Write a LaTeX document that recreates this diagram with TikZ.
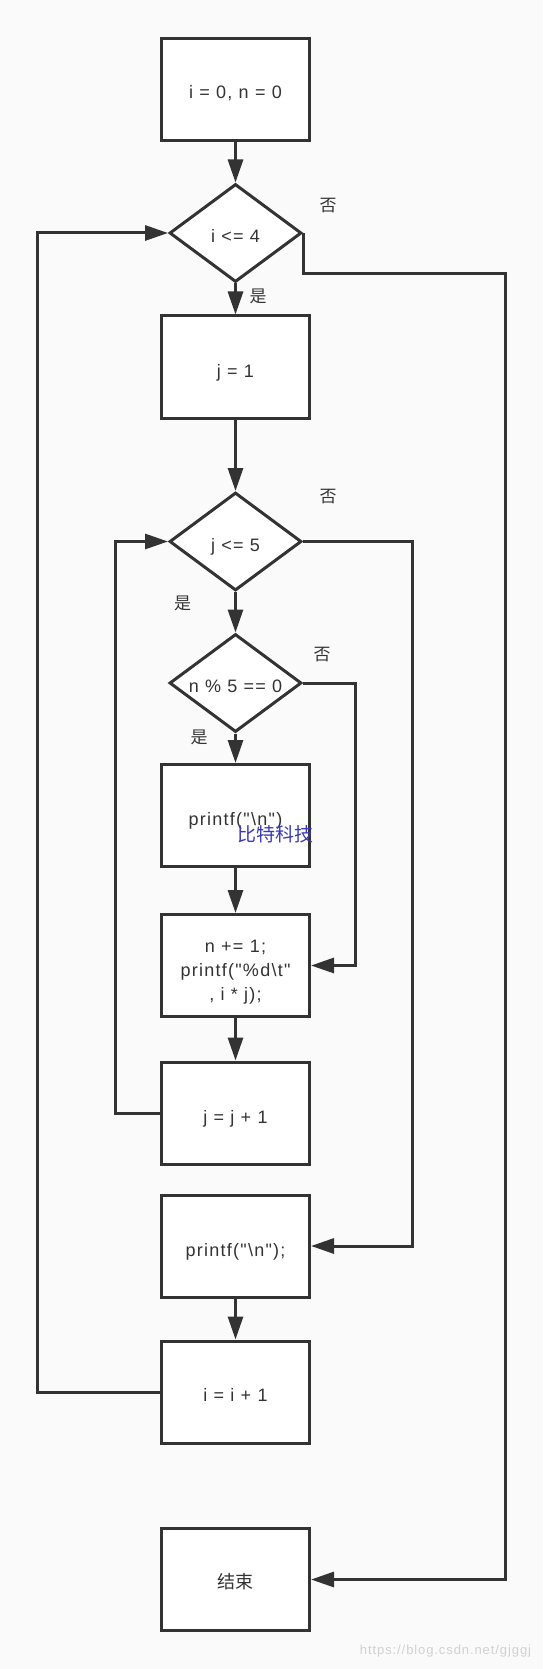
\documentclass[tikz,border=0pt]{standalone}
\usepackage{fontspec}
\newfontfamily\latf{Liberation Sans}[LetterSpace=7]
\newfontfamily\cjk{Noto Sans CJK SC}
\usetikzlibrary{arrows.meta,shapes.geometric}
\definecolor{lncol}{HTML}{333333}
\definecolor{bgcol}{HTML}{FAFAFA}
\definecolor{wmcol}{HTML}{3A3AB4}
\newcommand\tbox[2][10pt]{\raisebox{-#1}[0pt][0pt]{#2}}
\newcommand\tdia[1]{\raisebox{-9.5pt}[0pt][0pt]{\makebox[0pt]{#1}}}
\begin{document}
\begin{tikzpicture}[x=1pt,y=-1pt,
  box/.style={draw=lncol,line width=3pt,fill=white,minimum width=148pt,minimum height=102pt,inner sep=0pt,font=\latf\fontsize{18}{24}\selectfont,text=lncol},
  dia/.style={draw=lncol,line width=3pt,fill=white,shape=diamond,minimum width=132pt,minimum height=98pt,inner sep=0pt,font=\latf\fontsize{18}{20}\selectfont,text=lncol},
  arr/.style={draw=lncol,line width=3pt,-{Triangle[length=23pt,width=15pt]}},
  lab/.style={font=\cjk\fontsize{17}{20}\selectfont,text=lncol,inner sep=0pt}]
\fill[bgcol] (0,0) rectangle (543,1669);
\useasboundingbox (0,0) rectangle (543,1669);

\node[box] (b1) at (235.5,89.5) {\tbox[9.5pt]{i = 0, n = 0}};
\node[dia] (d1) at (235.5,233) {\tdia{i <= 4}};
\node[box] (b2) at (235.5,367) {\tbox{j = 1}};
\node[dia] (d2) at (235.5,541.5) {\tdia{j <= 5}};
\node[dia] (d3) at (235.5,683) {\tdia{n \% 5 == 0}};
\node[box] (b3) at (235.5,815.5) {\tbox[9.5pt]{printf("\textbackslash n")}};
\node[box] (b4) at (235.5,965.5) {\tbox[34.5pt]{\begin{tabular}[b]{@{}c@{}}n += 1;\\printf("\%d\textbackslash t"\\, i * j);\end{tabular}}};
\node[box] (b5) at (235.5,1113) {\tbox{j = j + 1}};
\node[box] (b6) at (235.5,1246) {\tbox[10.5pt]{printf("\textbackslash n");}};
\node[box] (b7) at (235.5,1392) {\tbox[9pt]{i = i + 1}};
\node[box] (b8) at (235.5,1579.5) {\tbox[8.5pt]{\cjk 结束}};

\coordinate (c1) at (505.5,274);
\coordinate (c2) at (37,233);
\coordinate (c3) at (115,541.5);
\coordinate (c4) at (412,541.5);
\coordinate (c5) at (355.6,683);

\draw[arr] (b1.south) -- (d1.north);
\draw[arr] (d1.south) -- (b2.north);
\draw[arr] (b2.south) -- (d2.north);
\draw[arr] (d2.south) -- (d3.north);
\draw[arr] (d3.south) -- (b3.north);
\draw[arr] (b3.south) -- (b4.north);
\draw[arr] (b4.south) -- (b5.north);
\draw[arr] (b6.south) -- (b7.north);
\draw[arr] (d3.east) -- (c5) |- (b4.east);
\draw[arr] (b5.west) -| (c3) -- (d2.west);
\draw[arr] (d2.east) -- (c4) |- (b6.east);
\draw[arr] (b7.west) -| (c2) -- (d1.west);
\draw[arr] (d1.east) |- (c1) |- (b8.east);

\node[lab] (l1) at (328,206) {否};
\node[lab] (l2) at (258,296) {是};
\node[lab] (l3) at (328,497) {否};
\node[lab] (l4) at (182.5,603) {是};
\node[lab] (l5) at (322,655) {否};
\node[lab] (l6) at (199,737) {是};

\node[font=\cjk\fontsize{19}{19}\selectfont,text=wmcol,inner sep=0pt] (wm1) at (275,834) {比特科技};
\node[font=\latf\fontsize{13}{13}\selectfont,text=black!18,inner sep=0pt] (wm2) at (445.5,1651) {https://blog.csdn.net/gjggj};
\end{tikzpicture}
\end{document}
